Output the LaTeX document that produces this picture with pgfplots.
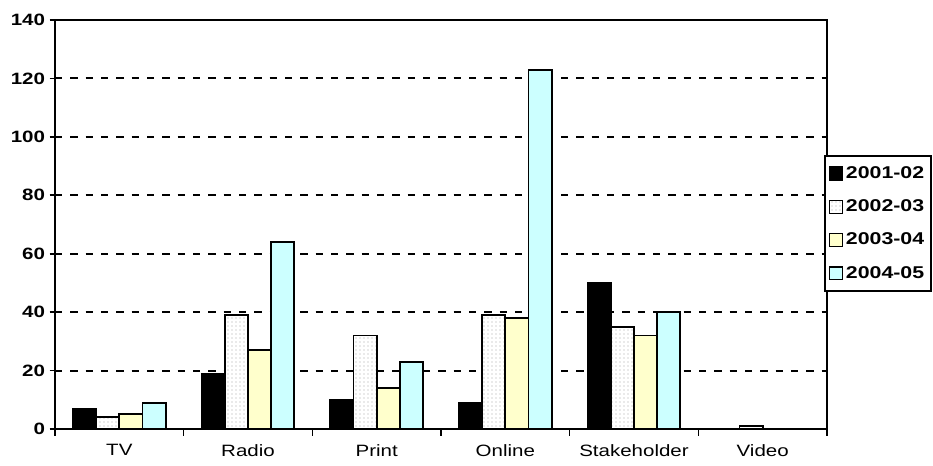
\documentclass[border=0pt]{standalone}
\usepackage{fontspec}
\setmainfont{Liberation Sans}[FakeStretch=1.25]
\usepackage{pgfplots}
\pgfplotsset{compat=1.18}
\usetikzlibrary{patterns}
\definecolor{paleyellow}{HTML}{FFFFCC}
\definecolor{palecyan}{HTML}{CCFFFF}

\begin{document}
\begin{tikzpicture}
\begin{axis}[
  name=ax,
  scale only axis,
  width=579pt, height=306.75pt,
  ybar=0pt, bar width=17.4pt,
  xmin=-0.5, xmax=5.5, ymin=0, ymax=140,
  xtick={0,...,5},
  xticklabels={TV,Radio,Print,Online,Stakeholder,Video},
  minor xtick={-0.5,0.5,...,5.5},
  major x tick style={draw=none},
  ytick={0,20,...,140},
  tick align=outside,
  xtick pos=bottom, ytick pos=left,
  major tick length=4pt, minor tick length=5pt,
  every tick/.style={black, line width=1.2pt},
  ymajorgrids,
  grid style={black, line width=1.6pt, dash pattern=on 5.5pt off 6pt},
  axis line style={line width=1.5pt},
  /pgf/number format/assume math mode=true,
  xticklabel style={font=\fontsize{12.3}{14}\selectfont, yshift=-4pt},
  yticklabel style={font=\bfseries\fontsize{12.3}{14}\selectfont},
  legend style={at={(0.996,0.670)}, anchor=north west, draw=black,
    line width=1.4pt, font=\bfseries\fontsize{12.8}{15}\selectfont,
    row sep=10.5pt, inner xsep=3pt, inner ysep=6pt},
  legend cell align=left,
  legend image code/.code={\draw[#1, line width=1pt] (0pt,-4.8pt) rectangle (9.8pt,4.8pt);},
]
\addplot[fill=black, draw=black, line width=1.4pt]
  coordinates {(0,7)(1,19)(2,10)(3,9)(4,50)(5,0)};
\addplot[fill=white, draw=black, line width=1.4pt, postaction={pattern=dots, pattern color=black!35}]
  coordinates {(0,4)(1,39)(2,32)(3,39)(4,35)(5,1)};
\addplot[fill=paleyellow, draw=black, line width=1.4pt]
  coordinates {(0,5)(1,27)(2,14)(3,38)(4,32)(5,0)};
\addplot[fill=palecyan, draw=black, line width=1.4pt]
  coordinates {(0,9)(1,64)(2,23)(3,123)(4,40)(5,0)};
\legend{2001-02,2002-03,2003-04,2004-05}
\end{axis}
\pgfresetboundingbox
\path[use as bounding box] ([xshift=-41.25pt,yshift=-27.75pt]ax.south west)
  rectangle ([xshift=79.5pt,yshift=15pt]ax.north east);
\end{tikzpicture}
\end{document}
